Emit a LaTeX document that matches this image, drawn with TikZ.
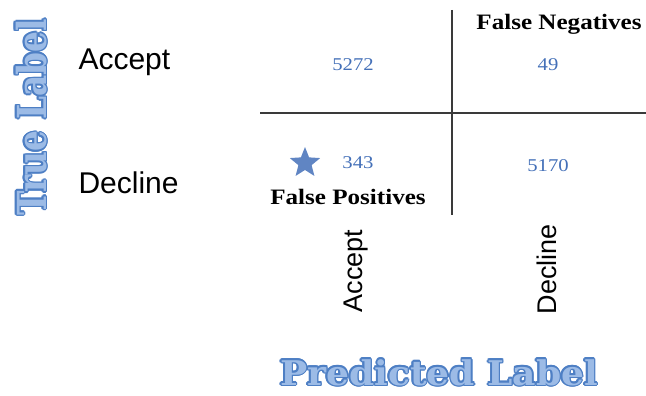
\documentclass[tikz,border=0pt]{standalone}
\usepackage{fontspec}
\setmainfont{Liberation Serif}
\newfontfamily\armfont{Liberation Sans}
\newfontfamily\wordart{DejaVu Serif}
\usetikzlibrary{shapes.geometric,calc}
\definecolor{numblue}{HTML}{4470B8}
\definecolor{artfill}{HTML}{9CBBE6}
\definecolor{artline}{HTML}{4E7FC4}
\definecolor{gridgray}{HTML}{3A3A3A}
\tikzset{
  num/.style={font=\fontsize{18}{20}\selectfont, text=numblue, xscale=1.15},
  cls/.style={font=\armfont\fontsize{30}{34}\selectfont, text=black},
  clsrot/.style={font=\armfont\fontsize{27}{30}\selectfont, text=black, rotate=90},
  fpfn/.style={font=\bfseries\fontsize{22}{26}\selectfont, text=black, xscale=1.14},
  artback/.style={font=\wordart\bfseries\fontsize{#1}{#1}\selectfont, text=artline, inner sep=0pt, anchor=base},
  artfront/.style={font=\wordart\bfseries\fontsize{#1}{#1}\selectfont, text=artfill, inner sep=0pt, anchor=base},
  gridline/.style={draw=gridgray, line width=1.3pt},
}
\begin{document}
\begin{tikzpicture}[x=1pt,y=-1pt]
\useasboundingbox (0,0) rectangle (646,396);
% grid
\coordinate (vtop) at (452,10);
\coordinate (vbot) at (452,215);
\coordinate (hl) at (260,113);
\coordinate (hr) at (646,113);
\draw[gridline] (vtop) -- (vbot);
\draw[gridline] (hl) -- (hr);
% counts
\node[num] (tp) at (353,65) {5272};
\node[num] (fn) at (548,65) {49};
\node[num] (fp) at (358,163) {343};
\node[num] (tn) at (548,166) {5170};
\node[star, star points=5, star point ratio=2.3, fill=numblue!85, minimum size=32pt, inner sep=0pt] (st) at (305,163) {};
% annotations
\node[fpfn] (fnl) at (559,24) {False Negatives};
\node[fpfn] (fpl) at (348,197) {False Positives};
% class labels
\node[cls, anchor=west] (ta) at (75,62) {Accept};
\node[cls, anchor=west] (td) at (75,183) {Decline};
\node[clsrot] (pa) at (356,271) {Accept};
\node[clsrot] (pd) at (547,269) {Decline};
% axis titles
\foreach \a in {0,30,...,330}{
  \node[artback=40, rotate=90, xscale=0.82] (tlb\a) at ($(46,117)+(\a:1.5)$) {True Label};
  \node[artback=34, xscale=1.06] (plb\a) at ($(439,385)+(\a:1.5)$) {Predicted Label};
}
\node[artfront=40, rotate=90, xscale=0.82] (tl) at (46,117) {True Label};
\node[artfront=34, xscale=1.06] (pl) at (439,385) {Predicted Label};
\end{tikzpicture}
\end{document}
